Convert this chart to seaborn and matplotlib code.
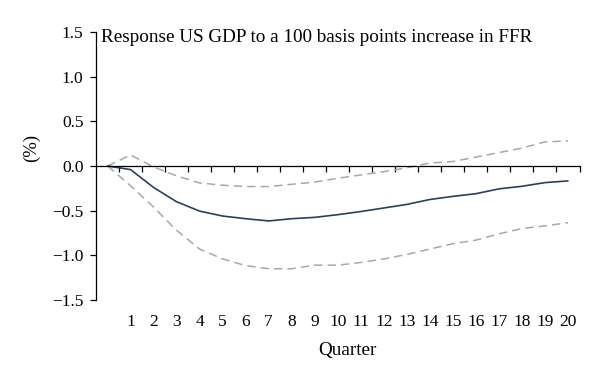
import numpy as np
import pandas as pd
import matplotlib
matplotlib.use("Agg")
import matplotlib.pyplot as plt
import seaborn as sns

# ---- data ----
quarters = list(range(0, 21))
quarter_labels = [str(q) for q in range(1, 21)]
response = [0.0, -0.04, -0.24, -0.40, -0.505, -0.56, -0.59, -0.615, -0.59, -0.575,
            -0.545, -0.51, -0.47, -0.43, -0.375, -0.34, -0.31, -0.256, -0.227, -0.186, -0.167]
upper = [0.0, 0.123, -0.01, -0.11, -0.19, -0.215, -0.23, -0.23, -0.205, -0.18,
         -0.137, -0.10, -0.063, -0.02, 0.033, 0.05, 0.10, 0.15, 0.20, 0.27, 0.28]
lower = [0.0, -0.22, -0.46, -0.72, -0.93, -1.04, -1.115, -1.15, -1.15, -1.11,
         -1.11, -1.08, -1.04, -0.99, -0.93, -0.87, -0.83, -0.76, -0.70, -0.67, -0.635]
y_ticks = [-1.5, -1.0, -0.5, 0.0, 0.5, 1.0, 1.5]
y_tick_labels = ["\u22121.5", "\u22121.0", "\u22120.5", "0.0", "0.5", "1.0", "1.5"]
title = "Response US GDP to a 100 basis points increase in FFR"

df = pd.DataFrame({"q": quarters, "resp": response, "up": upper, "lo": lower})

sns.set_style("ticks")
plt.rcParams["font.family"] = ["Liberation Serif", "DejaVu Serif"]
plt.rcParams["text.color"] = "black"
plt.rcParams["xtick.color"] = "black"
plt.rcParams["ytick.color"] = "black"
plt.rcParams["xtick.labelcolor"] = "black"
plt.rcParams["ytick.labelcolor"] = "black"

fig = plt.figure(figsize=(6, 3.82), dpi=100)
ax = fig.add_axes([96 / 600, 1 - 300 / 382, (579.5 - 96) / 600, (300 - 32) / 382])

gray = "#a8a8a8"
sns.lineplot(data=df, x="q", y="up", ax=ax, color=gray, lw=1.1, linestyle=(0, (5.5, 3.3)))
sns.lineplot(data=df, x="q", y="lo", ax=ax, color=gray, lw=1.1, linestyle=(0, (5.5, 3.3)))
sns.lineplot(data=df, x="q", y="resp", ax=ax, color="#2b3f5e", lw=1.2)

ax.set_xlim(-0.5, 20.5)
ax.set_ylim(-1.5, 1.5)
ax.set_xlabel("")
ax.set_ylabel("")

for s in ["top", "right"]:
    ax.spines[s].set_visible(False)
ax.spines["bottom"].set_position(("data", 0))
ax.spines["bottom"].set_color("black")
ax.spines["left"].set_color("black")
ax.spines["bottom"].set_linewidth(0.9)
ax.spines["left"].set_linewidth(0.9)

ax.set_xticks(np.arange(0.5, 21, 1))
ax.set_xticklabels([])
ax.tick_params(axis="x", direction="out", length=4, width=0.9, color="black")

ax.set_yticks(y_ticks)
ax.set_yticklabels(y_tick_labels, fontsize=12.5)
ax.tick_params(axis="y", direction="out", length=4, width=0.9, color="black",
               labelcolor="black", pad=5)

sec = ax.secondary_xaxis(0)
sec.set_xticks(range(1, 21))
sec.set_xticklabels(quarter_labels, fontsize=12.5)
sec.tick_params(length=0, pad=10, labelcolor="black")
sec.spines["bottom"].set_visible(False)

fig.text(101 / 600, 1 - 37 / 382, title, fontsize=13.8, va="center", ha="left", color="black")
fig.text(31 / 600, 1 - 148 / 382, "(%)", fontsize=13.5, rotation=90, va="center", ha="center", color="black")
fig.text(347 / 600, 1 - 350 / 382, "Quarter", fontsize=13.8, va="center", ha="center", color="black")

fig.savefig("out.png", dpi=100, facecolor="white")
